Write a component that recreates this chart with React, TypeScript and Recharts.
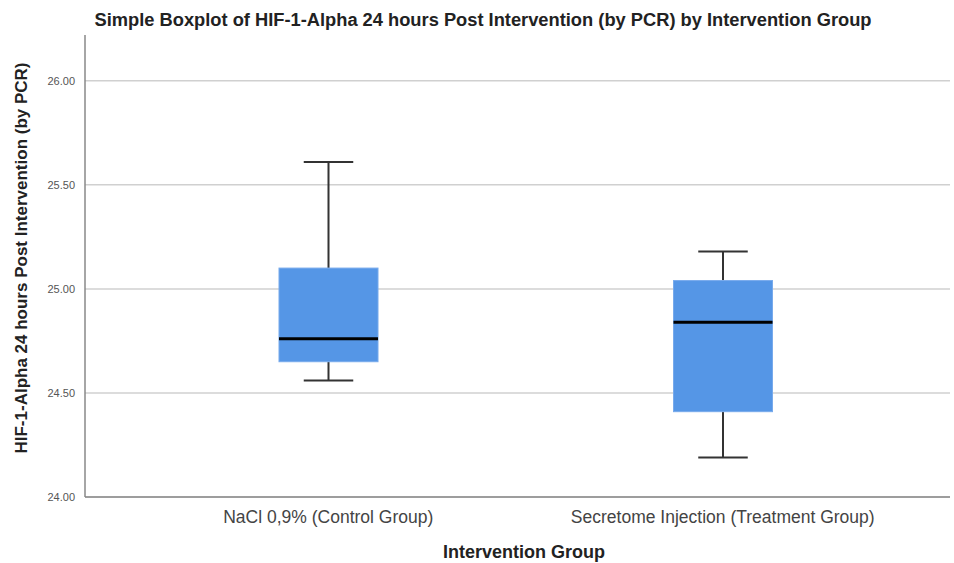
import { ComposedChart, Bar, XAxis, YAxis, CartesianGrid } from "recharts";

const groups = ["NaCl 0,9% (Control Group)", "Secretome Injection (Treatment Group)"];
const whiskerLow = [24.56, 24.19];
const q1 = [24.65, 24.41];
const median = [24.76, 24.84];
const q3 = [25.1, 25.04];
const whiskerHigh = [25.61, 25.18];
const yTicks = [24, 24.5, 25, 25.5, 26];

const data = groups.map((g, i) => ({
  group: g,
  low: whiskerLow[i],
  q1: q1[i],
  median: median[i],
  q3: q3[i],
  high: whiskerHigh[i],
  range: [whiskerLow[i], whiskerHigh[i]],
}));

const BoxShape = (props: any) => {
  const { x, y, width, height, payload } = props;
  const unit = height / (payload.high - payload.low);
  const py = (v: number) => y + (payload.high - v) * unit;
  const cx = x + width / 2;
  const cap = width / 4;
  return (
    <g>
      <line x1={cx} x2={cx} y1={py(payload.high)} y2={py(payload.q3)} stroke="#333" strokeWidth={2} />
      <line x1={cx} x2={cx} y1={py(payload.q1)} y2={py(payload.low)} stroke="#333" strokeWidth={2} />
      <line x1={cx - cap} x2={cx + cap} y1={py(payload.high)} y2={py(payload.high)} stroke="#333" strokeWidth={2} />
      <line x1={cx - cap} x2={cx + cap} y1={py(payload.low)} y2={py(payload.low)} stroke="#333" strokeWidth={2} />
      <rect x={x} y={py(payload.q3)} width={width} height={py(payload.q1) - py(payload.q3)} fill="#5596e6" stroke="#77aaec" strokeWidth={1} />
      <line x1={x} x2={x + width} y1={py(payload.median)} y2={py(payload.median)} stroke="#000" strokeWidth={3} />
    </g>
  );
};

export default function App() {
  return (
    <div style={{ position: "absolute", left: 0, top: 0, width: 954, height: 563, background: "#fff", fontFamily: "'Liberation Sans', Arial, sans-serif" }}>
      <div style={{ position: "absolute", left: 0, width: 966, top: 9, textAlign: "center", fontSize: 18.3, fontWeight: "bold", color: "#222", whiteSpace: "nowrap" }}>
        Simple Boxplot of HIF-1-Alpha 24 hours Post Intervention (by PCR) by Intervention Group
      </div>
      <div style={{ position: "absolute", left: 22, top: 258, width: 0, height: 0 }}>
        <div style={{ position: "absolute", transform: "translate(-50%, -50%) rotate(-90deg)", whiteSpace: "nowrap", fontSize: 17, fontWeight: "bold", color: "#222" }}>
          HIF-1-Alpha 24 hours Post Intervention (by PCR)
        </div>
      </div>
      <div style={{ position: "absolute", left: 0, width: 1048, top: 542, textAlign: "center", fontSize: 18, fontWeight: "bold", color: "#222" }}>
        Intervention Group
      </div>
      <ComposedChart width={954} height={563} data={data} margin={{ top: 35, right: 4, bottom: 36, left: 0 }}>
        <CartesianGrid vertical={false} horizontalValues={yTicks} stroke="#d0d0d0" strokeWidth={1.5} />
        <XAxis
          dataKey="group"
          height={30}
          axisLine={{ stroke: "#888", strokeWidth: 1.5 }}
          tickLine={false}
          padding={{ left: 46, right: 30 }}
          tick={{ fontSize: 17.5, fill: "#444" }}
          tickMargin={8}
        />
        <YAxis
          width={85}
          domain={[24, 26.22]}
          ticks={yTicks}
          allowDataOverflow
          tickFormatter={(v: number) => v.toFixed(2)}
          axisLine={{ stroke: "#888", strokeWidth: 1.5 }}
          tickLine={false}
          tick={{ fontSize: 11, fill: "#555" }}
          tickMargin={4}
        />
        <Bar dataKey="range" barSize={99} shape={BoxShape} isAnimationActive={false} />
      </ComposedChart>
    </div>
  );
}
